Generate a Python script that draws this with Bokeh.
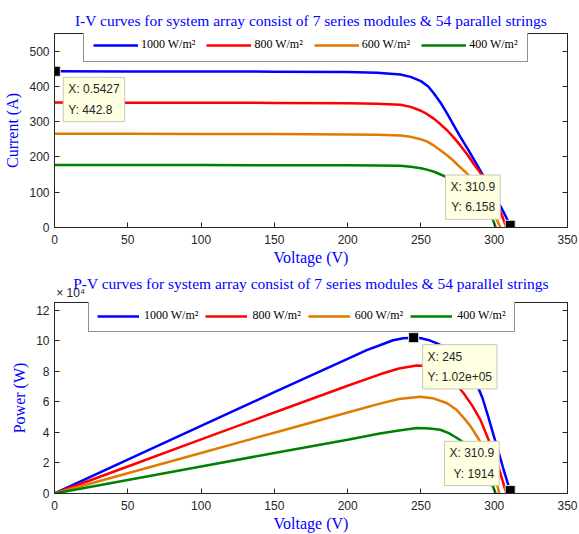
from bokeh.plotting import figure
from bokeh.models import Range1d, LinearAxis, Legend, LegendItem, Label, FixedTicker
from bokeh.layouts import column
from bokeh.embed import file_html
from bokeh.resources import INLINE

# ---------------- data ----------------
series_labels = ["1000 W/m\u00b2", "800 W/m\u00b2", "600 W/m\u00b2", "400 W/m\u00b2"]
series_colors = ["#0000ff", "#ff0000", "#e07b00", "#008000"]

# I-V curves
iv_v_1000 = [0, 50, 100, 150, 200, 220, 236, 243, 250, 255, 259, 264, 268, 273, 277, 282, 286, 291, 295, 300, 305, 309, 310.9, 311.6]
iv_i_1000 = [442.8, 442.6, 442.3, 441.8, 440.5, 438.5, 434, 427, 415, 400, 379, 350, 322, 285, 256, 222, 194, 158, 128, 90, 55, 22, 6.158, 0]
iv_v_800 = [0, 50, 100, 150, 200, 220, 236, 243, 250, 254, 259, 263, 268, 272, 277, 282, 286, 292, 296, 300, 303, 306, 308.3]
iv_i_800 = [354.2, 354, 353.8, 353.3, 352, 350.5, 348, 342, 331, 322, 308, 294, 275, 257, 232, 205, 180, 147, 117, 84, 57, 26, 0]
iv_v_600 = [0, 50, 100, 150, 200, 220, 236, 243, 250, 254, 259, 263, 268, 272, 277, 281, 285, 290, 294, 298, 301, 304.2]
iv_i_600 = [265.7, 265.5, 265.3, 265, 264, 262.8, 261, 257, 250, 244, 232, 220, 204, 190, 170, 155, 138, 108, 82, 52, 30, 0]
iv_v_400 = [0, 50, 100, 150, 200, 220, 236, 243, 250, 254, 259, 263, 268, 272, 277, 282, 286, 290, 294, 297, 299, 301]
iv_i_400 = [177.1, 177, 176.9, 176.7, 176.3, 175.8, 175, 172, 168, 164, 158, 151, 142, 134, 122, 107, 93, 77, 57, 38, 23, 0]

# P-V curves (W)
pv_v_1000 = [0, 50, 100, 150, 200, 213, 222, 231, 238, 245, 250, 255, 261, 265, 270, 275, 280, 284.5, 288.3, 292, 296, 299.6, 303, 306, 309, 310.9, 311.6]
pv_p_1000 = [0, 22130, 44250, 66300, 88100, 93800, 97000, 100300, 101600, 102000, 101600, 100500, 98200, 96300, 93000, 88300, 82500, 76500, 71000, 62500, 50000, 38000, 27000, 17000, 7500, 1914, 0]
pv_v_800 = [0, 50, 100, 150, 200, 222, 235, 247, 255, 262, 268, 274, 279, 285, 290.6, 296, 300, 303, 306, 308.3]
pv_p_800 = [0, 17700, 35400, 53000, 70500, 78000, 81800, 83800, 83500, 81000, 76400, 71500, 65800, 57500, 48200, 35500, 25500, 17000, 7500, 0]
pv_v_600 = [0, 50, 100, 150, 200, 222, 235, 249.6, 258, 267.9, 274, 279.2, 284, 288.3, 292, 296, 300, 303.5]
pv_p_600 = [0, 13280, 26550, 39800, 53000, 58800, 61800, 63300, 62400, 59100, 55000, 49500, 43800, 37300, 31500, 23500, 13500, 0]
pv_v_400 = [0, 50, 100, 150, 200, 222, 235, 247.3, 256, 263.2, 269, 274.6, 281.4, 286, 290, 294, 297, 298.5, 301]
pv_p_400 = [0, 8850, 17700, 26500, 35200, 39300, 41300, 42800, 42600, 41700, 39500, 36300, 31900, 27300, 22000, 16500, 10000, 6200, 0]

# data tips
iv_tip_x = [0.5427, 310.9]
iv_tip_y = [442.8, 6.158]
iv_tip_text = ["X: 0.5427\nY: 442.8", "X: 310.9\nY: 6.158"]
pv_tip_x = [245, 310.9]
pv_tip_y = [102000, 1914]
pv_tip_text = ["X: 245\nY: 1.02e+05", "X: 310.9\nY: 1914"]

# axes
x_ticks = [0, 50, 100, 150, 200, 250, 300, 350]
iv_y_ticks = [0, 100, 200, 300, 400, 500]
pv_y_ticks = [0, 20000, 40000, 60000, 80000, 100000, 120000]
pv_y_tick_labels = ["0", "2", "4", "6", "8", "10", "12"]
pv_exponent_text = "\u00d7 10\u2074"

iv_title = "I-V curves for system array consist of 7 series modules & 54 parallel strings"
pv_title = "P-V curves for system array consist of 7 series modules & 54 parallel strings"

AX = "#262626"
SERIF = "Liberation Serif"
SANS = "Liberation Sans"
EXP_LABEL_X = 11  # horizontal anchor (data units) of the exponent text


def style_axis(ax, ticks, overrides=None, hide=False):
    ax.ticker = FixedTicker(ticks=ticks)
    ax.axis_line_color = AX
    ax.major_tick_line_color = AX
    ax.major_tick_in = 5
    ax.major_tick_out = 0
    ax.minor_tick_line_color = None
    ax.major_label_text_font = SANS
    ax.major_label_text_font_size = "12px"
    ax.major_label_text_color = AX
    if overrides:
        ax.major_label_overrides = overrides
    if hide:
        ax.major_label_overrides = {t: "" for t in ticks}
        ax.major_label_text_color = None
        ax.major_label_standoff = 0


def make_fig(height, top, bottom, y_max, title, title_standoff, xs, ys, y_ticks, y_label,
             y_over, legend_loc, leg_glyph_w, leg_standoff, leg_spacing, leg_pad):
    p = figure(width=579, height=height, output_backend="svg", toolbar_location=None,
               x_range=Range1d(0, 350), y_range=Range1d(0, y_max),
               min_border_left=54, min_border_right=12,
               min_border_top=top, min_border_bottom=bottom)
    p.title.text = title
    p.title.text_font = SERIF
    p.title.text_font_size = "15.5px"
    p.title.text_font_style = "normal"
    p.title.text_color = "#0000ff"
    p.title.align = "center"
    p.title.standoff = title_standoff
    p.grid.visible = False
    p.outline_line_color = AX
    p.outline_line_width = 1
    p.background_fill_color = "white"
    p.border_fill_color = "white"

    style_axis(p.xaxis[0], x_ticks)
    p.xaxis.major_label_standoff = 7
    p.xaxis.axis_label = "Voltage (V)"
    style_axis(p.yaxis[0], y_ticks, overrides=y_over)
    p.yaxis.major_label_standoff = 5
    p.yaxis.axis_label = y_label
    for ax in (p.xaxis[0], p.yaxis[0]):
        ax.axis_label_text_font = SERIF
        ax.axis_label_text_font_size = "16px"
        ax.axis_label_text_font_style = "normal"
        ax.axis_label_text_color = "#0000ff"
    p.xaxis.axis_label_standoff = 2
    p.yaxis.axis_label_standoff = 5

    top_ax = LinearAxis()
    style_axis(top_ax, x_ticks, hide=True)
    p.add_layout(top_ax, "above")
    right_ax = LinearAxis()
    style_axis(right_ax, y_ticks, hide=True)
    p.add_layout(right_ax, "right")

    items = []
    for x, y, lbl, col in zip(xs, ys, series_labels, series_colors):
        r = p.line(x, y, line_color=col, line_width=2.5)
        items.append(LegendItem(label=lbl, renderers=[r]))
    leg = Legend(items=items, orientation="horizontal", location=legend_loc,
                 glyph_width=leg_glyph_w, glyph_height=12, label_height=12,
                 label_standoff=leg_standoff, spacing=leg_spacing, padding=leg_pad, margin=0,
                 label_text_font=SERIF, label_text_font_size="12px", label_text_color="#000000",
                 border_line_color=AX, border_line_width=1,
                 background_fill_color="white", background_fill_alpha=1)
    p.add_layout(leg)
    return p


p1 = make_fig(272, 33, 45, 550, iv_title, 10,
              [iv_v_1000, iv_v_800, iv_v_600, iv_v_400],
              [iv_i_1000, iv_i_800, iv_i_600, iv_i_400],
              iv_y_ticks, "Current (A)", None, (29, 165), 45, 3, 11, 9)

p2 = make_fig(262, 30, 40, 125000, pv_title, -18,
              [pv_v_1000, pv_v_800, pv_v_600, pv_v_400],
              [pv_p_1000, pv_p_800, pv_p_600, pv_p_400],
              pv_y_ticks, "Power (W)", dict(zip(pv_y_ticks, pv_y_tick_labels)), (34, 161), 42, 5, 7, 8)

# exponent text of the power axis (MATLAB style, above the top-left corner)
exp_ax = LinearAxis(ticker=FixedTicker(ticks=[EXP_LABEL_X]),
                    major_label_overrides={EXP_LABEL_X: pv_exponent_text},
                    axis_line_color=None, major_tick_line_color=None, minor_tick_line_color=None,
                    major_tick_in=0, major_tick_out=0, major_label_standoff=3,
                    major_label_text_font=SANS, major_label_text_font_size="12px",
                    major_label_text_color=AX)
p2.add_layout(exp_ax, "above")


def add_tips(p, tx, ty, texts, placements):
    p.scatter(tx, ty, marker="square", size=10, fill_color="black",
              line_color="#e6e6c8", line_width=1)
    for x, y, t, (align, base, xo, yo) in zip(tx, ty, texts, placements):
        p.add_layout(Label(x=x, y=y, text=t, x_offset=xo, y_offset=yo,
                           text_align=align, text_baseline=base,
                           text_font=SANS, text_font_size="12px", text_color=AX,
                           text_line_height=1.45, padding=5,
                           background_fill_color="#ffffe1", background_fill_alpha=1,
                           border_line_color="#c8c8b8", border_line_width=1))


add_tips(p1, iv_tip_x, iv_tip_y, iv_tip_text,
         [("left", "top", 8, -6), ("right", "bottom", -10, 6)])
add_tips(p2, pv_tip_x, pv_tip_y, pv_tip_text,
         [("left", "top", 9, -7), ("right", "bottom", -11, 5)])

layout = column(p1, p2)
open("out.html", "w").write(file_html(layout, INLINE))
